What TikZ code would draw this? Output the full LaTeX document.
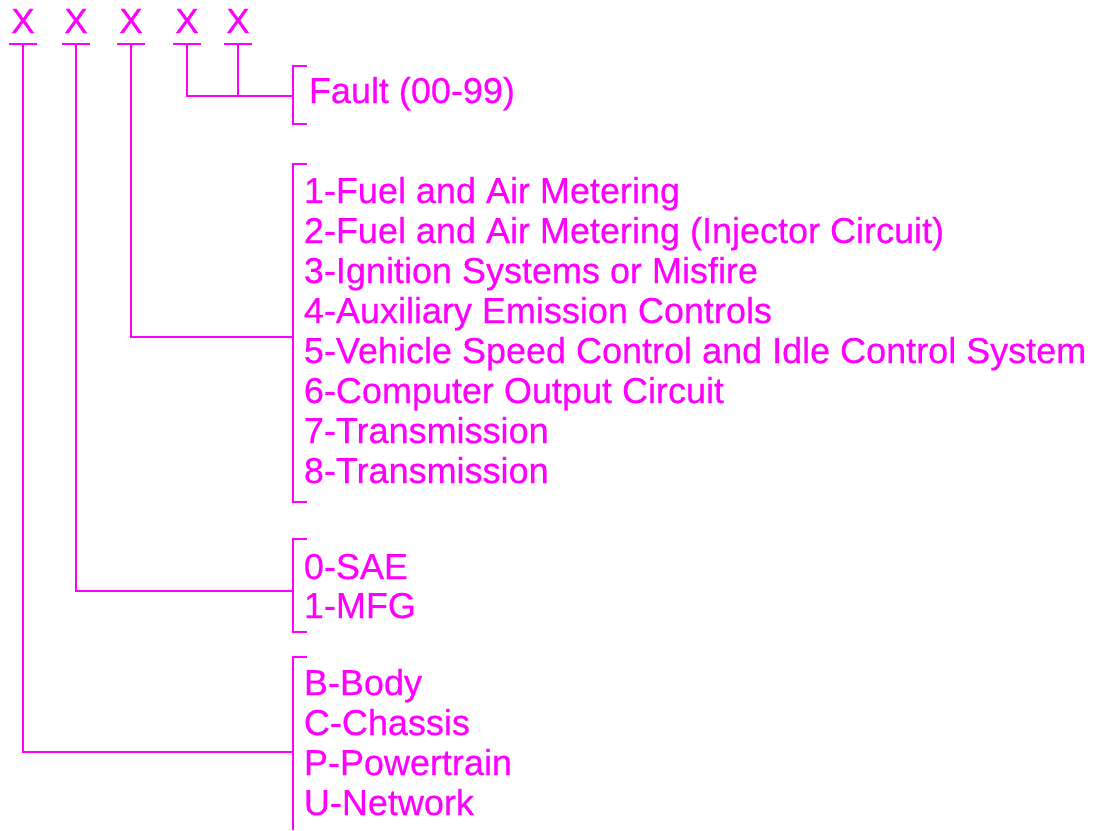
\documentclass[tikz,border=0pt]{standalone}
\usepackage{fontspec}
\setmainfont[FakeBold=0.4]{Liberation Sans}
\definecolor{dtcpink}{RGB}{255,0,255}
\tikzset{
	code/.style = {anchor = base west, inner sep = 0pt, font = \fontsize{36}{40}\selectfont},
	digit/.style = {anchor = base, inner sep = 0pt, font = \fontsize{35}{40}\selectfont}
}
\begin{document}
\begin{tikzpicture}[x = 1pt, y = -1pt, line width = 1.8pt, dtcpink]
	\useasboundingbox (0,0) rectangle (1094,830);
	% the five characters of the code
	\foreach \i/\x in {1/23,2/76,3/131,4/187,5/238} {
		\node [digit] (x\i) at (\x,33) {X};
		\coordinate (u\i) at (\x,44);
		\draw (\x-14,44) -- (\x+14,44);
	}
	% brackets
	\coordinate (b1) at (293,96);
	\coordinate (b2) at (293,337);
	\coordinate (b3) at (293,591);
	\coordinate (b4) at (293,752);
	\draw (307,66) -- (293,66) -- (293,124) -- (307,124);
	\draw (307,164) -- (293,164) -- (293,502) -- (307,502);
	\draw (307,539) -- (293,539) -- (293,632) -- (307,632);
	\draw (307,657) -- (293,657) -- (293,830);
	% connectors
	\draw (u4) |- (b1);
	\draw (u5) -- (u5 |- b1);
	\draw (u3) |- (b2);
	\draw (u2) |- (b3);
	\draw (u1) |- (b4);
	% texts
	\node [code] (fault) at (308,103) {Fault (00-99)};
	\foreach \t [count = \n] in {1-Fuel and Air Metering,
		2-Fuel and Air Metering (Injector Circuit),
		3-Ignition Systems or Misfire,
		4-Auxiliary Emission Controls,
		5-Vehicle Speed Control and Idle Control System,
		6-Computer Output Circuit,
		7-Transmission,
		8-Transmission}
		\node [code] (sys\n) at (303,163+40*\n) {\t};
	\node [code] (sae) at (303,579) {0-SAE};
	\node [code] (mfg) at (303,618) {1-MFG};
	\foreach \t [count = \n] in {B-Body,C-Chassis,P-Powertrain,U-Network}
		\node [code] (area\n) at (303,655+40*\n) {\t};
\end{tikzpicture}
\end{document}
